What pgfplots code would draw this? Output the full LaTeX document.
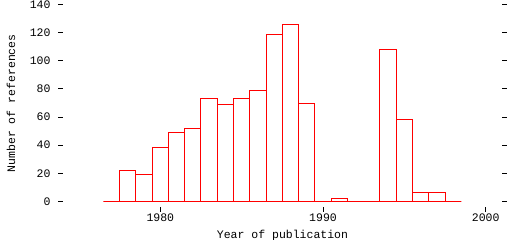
\documentclass[border=0pt]{standalone}
\usepackage{fontspec}
\setmainfont{Liberation Mono}
\usepackage{pgfplots}
\pgfplotsset{compat=1.18}
\begin{document}
\begin{tikzpicture}
\path[use as bounding box] (0,0) rectangle (512bp,240bp);
\begin{axis}[
  at={(58.3bp,33.3bp)}, anchor=south west,
  scale only axis, width=448.4bp, height=206.7bp,
  xmin=1973.73, xmax=2001.29, ymin=-3.85, ymax=143.4,
  axis line style={draw=none},
  tick align=inside,
  major tick length=5bp,
  tick style={black, line width=1bp},
  xtick={1980,1990,2000},
  ytick={0,20,40,60,80,100,120,140},
  /pgf/number format/assume math mode=true,
  /pgf/number format/set thousands separator={},
  every tick label/.append style={font=\fontsize{11.5bp}{13bp}\selectfont, inner sep=0pt},
  xticklabel style={anchor=north},
  yticklabel style={anchor=east},
  xticklabel shift=2.3bp,
  yticklabel shift=7.6bp,
  label style={font=\fontsize{11.5bp}{13bp}\selectfont, inner sep=0pt},
  xlabel={Year of publication},
  ylabel={Number of references},
  xlabel style={at={(axis description cs:0.5,-0.14)}, anchor=center},
  ylabel style={at={(axis description cs:-0.1055,0.5)}, anchor=center},
  ybar, bar width=1, bar shift=0pt,
  clip=false,
]
\addplot[draw=red, fill=none, line width=1bp] coordinates {
(1977,0) (1978,22) (1979,19) (1980,38) (1981,49) (1982,52) (1983,73)
(1984,69) (1985,73) (1986,79) (1987,119) (1988,126) (1989,70) (1990,0)
(1991,2) (1992,0) (1993,0) (1994,108) (1995,58) (1996,6) (1997,6) (1998,0)
};
\end{axis}
\end{tikzpicture}
\end{document}
